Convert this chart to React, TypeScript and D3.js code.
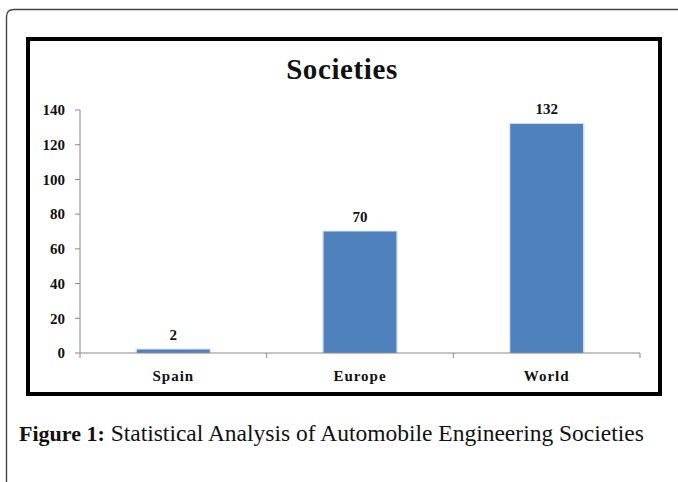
import React from "react";
import * as d3 from "d3";

const categories = ["Spain", "Europe", "World"];
const values = [2, 70, 132];
const yTicks = [0, 20, 40, 60, 80, 100, 120, 140];
const chartTitle = "Societies";
const captionLead = "Figure 1:";
const captionText = " Statistical Analysis of Automobile Engineering Societies";

const W = 678;
const H = 482;
const plot = { left: 80, right: 640, top: 110, bottom: 353 };
const serif = "'Liberation Serif', 'Times New Roman', serif";

export default function App() {
  const x = d3
    .scaleBand<string>()
    .domain(categories)
    .range([plot.left, plot.right])
    .paddingInner(0.61)
    .paddingOuter(0.305);
  const band = d3.scaleBand<string>().domain(categories).range([plot.left, plot.right]);
  const y = d3.scaleLinear().domain([0, 140]).range([plot.bottom, plot.top]);

  const boundaries = [plot.left, ...categories.map((c) => (band(c) as number) + band.bandwidth())];

  return (
    <div style={{ position: "absolute", left: 0, top: 0 }}>
      <svg width={W} height={H} style={{ display: "block", background: "#fff" }}>
        {/* outer page frame, open on the right and bottom */}
        <path
          d={`M6.5,${H} L6.5,17 Q6.5,9.5 14,9.5 L${W},9.5`}
          fill="none"
          stroke="#444"
          strokeWidth={1.4}
        />
        {/* chart frame */}
        <rect x={28} y={39} width={632} height={355} fill="#fff" stroke="#000" strokeWidth={4} />

        <text
          x={342}
          y={79}
          textAnchor="middle"
          fontFamily={serif}
          fontWeight="bold"
          fontSize={29}
          letterSpacing={0.6}
          fill="#111"
        >
          {chartTitle}
        </text>

        {/* y axis */}
        <line x1={plot.left} x2={plot.left} y1={plot.top} y2={plot.bottom} stroke="#8a8a8a" strokeWidth={1} />
        {yTicks.map((t) => (
          <g key={t}>
            <line x1={plot.left - 5} x2={plot.left} y1={y(t)} y2={y(t)} stroke="#8a8a8a" strokeWidth={1} />
            <text
              x={65}
              y={y(t)}
              dy="0.35em"
              textAnchor="end"
              fontFamily={serif}
              fontWeight="bold"
              fontSize={15}
              fill="#111"
            >
              {t}
            </text>
          </g>
        ))}

        {/* bars */}
        {categories.map((c, i) => (
          <g key={c}>
            <rect
              x={(x(c) as number) - 1.5}
              y={y(values[i]) - 1}
              width={x.bandwidth() + 3}
              height={y(0) - y(values[i]) + 1}
              fill="#dfe6ef"
            />
            <rect
              x={x(c) as number}
              y={y(values[i])}
              width={x.bandwidth()}
              height={y(0) - y(values[i])}
              fill="#4f81bd"
            />
            <text
              x={(x(c) as number) + x.bandwidth() / 2}
              y={y(values[i]) - 10}
              textAnchor="middle"
              fontFamily={serif}
              fontWeight="bold"
              fontSize={15}
              fill="#111"
            >
              {values[i]}
            </text>
            <text
              x={(x(c) as number) + x.bandwidth() / 2}
              y={381}
              textAnchor="middle"
              fontFamily={serif}
              fontWeight="bold"
              fontSize={15}
              letterSpacing={1}
              fill="#111"
            >
              {c}
            </text>
          </g>
        ))}

        {/* x axis */}
        <line x1={plot.left} x2={plot.right} y1={plot.bottom} y2={plot.bottom} stroke="#8a8a8a" strokeWidth={1} />
        {boundaries.map((b, i) => (
          <line key={i} x1={b} x2={b} y1={plot.bottom} y2={plot.bottom + 5} stroke="#8a8a8a" strokeWidth={1} />
        ))}

        <text x={19} y={441} fontFamily={serif} fill="#111">
          <tspan fontWeight="bold" fontSize={22}>{captionLead}</tspan>
          <tspan fontSize={23.5}>{captionText}</tspan>
        </text>
      </svg>
    </div>
  );
}
